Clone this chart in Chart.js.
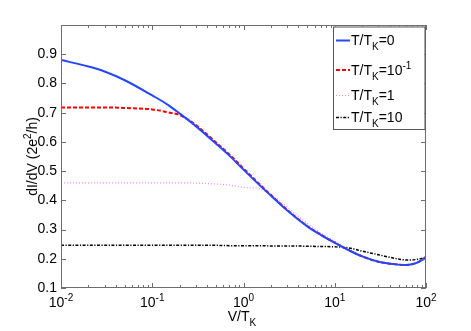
<!DOCTYPE html>
<html>
<head>
<meta charset="utf-8">
<script src="https://cdn.jsdelivr.net/npm/chart.js@4"></script>
<style>
  body { margin: 0; background: #fff; }
  #wrap { width: 471px; height: 331px; }
</style>
</head>
<body>
<div id="wrap"><canvas id="dIdVChart" width="471" height="331"></canvas></div>
<script>
// V/T_K sample points (log axis)
const vRatio = [0.01, 0.02, 0.03, 0.05, 0.1, 0.15, 0.2, 0.3, 0.5, 0.7, 1, 1.5, 2, 3, 5, 7, 10, 15, 20, 30, 50, 60, 70, 80, 90, 100];

// dI/dV in units of 2e^2/h
const gT0  = [0.880, 0.858, 0.841, 0.811, 0.759, 0.726, 0.697, 0.654, 0.594, 0.553, 0.505, 0.452, 0.416, 0.366, 0.311, 0.282, 0.255, 0.226, 0.208, 0.190, 0.180, 0.179, 0.181, 0.187, 0.195, 0.206];
const gT01 = [0.718, 0.718, 0.718, 0.716, 0.711, 0.701, 0.692, 0.658, 0.598, 0.557, 0.509, 0.455, 0.418, 0.368, 0.312, 0.283, 0.255, 0.226, 0.208, 0.190, 0.180, 0.179, 0.181, 0.187, 0.195, 0.206];
const gT1  = [0.460, 0.460, 0.460, 0.460, 0.460, 0.460, 0.460, 0.459, 0.456, 0.452, 0.445, 0.439, 0.420, 0.378, 0.321, 0.289, 0.260, 0.228, 0.209, 0.191, 0.181, 0.180, 0.182, 0.188, 0.196, 0.206];
const gT10 = [0.246, 0.246, 0.246, 0.246, 0.246, 0.246, 0.246, 0.246, 0.246, 0.245, 0.245, 0.245, 0.244, 0.244, 0.243, 0.242, 0.241, 0.236, 0.226, 0.214, 0.199, 0.196, 0.196, 0.198, 0.201, 0.206];

// legend text: [before subscript, subscript, after, superscript]
const legendLabels = [
  ['T/T', 'K', '=0', ''],
  ['T/T', 'K', '=10', '-1'],
  ['T/T', 'K', '=1', ''],
  ['T/T', 'K', '=10', '']
];

// x tick labels 10^n
const xTickValues = [0.01, 0.1, 1, 10, 100];
const xTickExponents = ['-2', '-1', '0', '1', '2'];

const pts = arr => arr.map((g, i) => ({ x: vRatio[i], y: g }));

const FONT = '"Liberation Sans", Arial, Helvetica, sans-serif';
const AXIS_GRAY = '#6e6e6e';

// draws text runs with super/subscripts, returns width
function richText(ctx, runs, x, y, align, draw) {
  const big = '14px ' + FONT, small = '10px ' + FONT;
  let w = 0;
  runs.forEach(r => { ctx.font = r.s ? small : big; w += ctx.measureText(r.t).width; });
  if (!draw) return w;
  let cx = align === 'center' ? x - w / 2 : x;
  ctx.textAlign = 'left';
  ctx.textBaseline = 'alphabetic';
  runs.forEach(r => {
    ctx.font = r.s ? small : big;
    const dy = r.s === 'sup' ? -6 : r.s === 'sub' ? 5 : 0;
    ctx.fillText(r.t, cx, y + dy);
    cx += ctx.measureText(r.t).width;
  });
  return w;
}

const datasetStyles = [
  { color: 'rgb(35,70,255)', width: 2, dash: [] },
  { color: 'rgb(255,0,0)', width: 2, dash: [4, 2] },
  { color: 'rgb(225,140,255)', width: 1.2, dash: [1, 2] },
  { color: 'rgb(0,0,0)', width: 1.5, dash: [3, 1.5, 1.2, 1.5] }
];

const framePlugin = {
  id: 'frame',
  afterDraw(chart) {
    const ctx = chart.ctx;
    const a = chart.chartArea;
    const xs = chart.scales.x, ys = chart.scales.y;
    ctx.save();
    // box
    ctx.strokeStyle = AXIS_GRAY;
    ctx.lineWidth = 1;
    ctx.setLineDash([]);
    ctx.strokeRect(a.left + 0.5, a.top + 0.5, a.right - a.left - 1, a.bottom - a.top - 1);
    // x ticks, major + minor, inward on top and bottom
    ctx.beginPath();
    xTickValues.forEach((v, i) => {
      for (let m = 1; m <= 9; m++) {
        if (i === xTickValues.length - 1 && m > 1) break;
        const px = Math.round(xs.getPixelForValue(v * m)) + 0.5;
        const len = m === 1 ? 5 : 3;
        ctx.moveTo(px, a.bottom); ctx.lineTo(px, a.bottom - len);
        ctx.moveTo(px, a.top); ctx.lineTo(px, a.top + len);
      }
    });
    // y ticks inward on left and right
    ys.ticks.forEach(t => {
      const py = Math.round(ys.getPixelForValue(t.value)) + 0.5;
      ctx.moveTo(a.left, py); ctx.lineTo(a.left + 5, py);
      ctx.moveTo(a.right, py); ctx.lineTo(a.right - 5, py);
    });
    ctx.stroke();

    ctx.fillStyle = '#000';
    // x tick labels
    xTickValues.forEach((v, i) => {
      const px = xs.getPixelForValue(v);
      richText(ctx, [{ t: '10' }, { t: xTickExponents[i], s: 'sup' }], px, 306.5, 'center', true);
    });
    // x title
    richText(ctx, [{ t: 'V/T' }, { t: 'K', s: 'sub' }], 242, 320.5, 'center', true);
    // y title
    ctx.save();
    ctx.translate(36.5, (a.top + a.bottom) / 2);
    ctx.rotate(-Math.PI / 2);
    richText(ctx, [{ t: 'dI/dV (2e' }, { t: '2', s: 'sup' }, { t: '/h)' }], 0, 0, 'center', true);
    ctx.restore();

    // legend
    const L = { x: 333, y: 26.5, w: 91.5, h: 102.5 };
    ctx.fillStyle = '#fff';
    ctx.fillRect(L.x, L.y, L.w, L.h);
    ctx.strokeStyle = '#555';
    ctx.strokeRect(L.x + 0.5, L.y + 0.5, L.w, L.h);
    const rowY = [40.5, 70, 95.5, 117.5];
    legendLabels.forEach((lab, i) => {
      const st = datasetStyles[i];
      ctx.strokeStyle = st.color;
      ctx.lineWidth = st.width;
      ctx.setLineDash(st.dash);
      ctx.beginPath();
      ctx.moveTo(336, rowY[i]); ctx.lineTo(350, rowY[i]);
      ctx.stroke();
      ctx.setLineDash([]);
      ctx.fillStyle = '#000';
      const runs = [{ t: lab[0] }, { t: lab[1], s: 'sub' }, { t: lab[2] }];
      if (lab[3]) runs.push({ t: lab[3], s: 'sup' });
      richText(ctx, runs, 351, rowY[i] + 4.5, 'left', true);
    });
    ctx.restore();
  }
};

const ctx = document.getElementById('dIdVChart').getContext('2d');
new Chart(ctx, {
  type: 'line',
  data: {
    datasets: [gT0, gT01, gT1, gT10].map((g, i) => ({
      data: pts(g),
      borderColor: datasetStyles[i].color,
      borderWidth: datasetStyles[i].width,
      borderDash: datasetStyles[i].dash,
      pointRadius: 0,
      fill: false,
      cubicInterpolationMode: 'monotone'
    }))
  },
  options: {
    responsive: false,
    animation: false,
    layout: { padding: { top: 25, right: 45, left: 0, bottom: 0 } },
    plugins: { legend: { display: false }, tooltip: { enabled: false } },
    scales: {
      x: {
        type: 'logarithmic',
        min: 0.01,
        max: 100,
        grid: { display: false },
        border: { display: false },
        ticks: { display: false },
        afterFit: s => { s.height = 43; }
      },
      y: {
        min: 0.1,
        max: 1.0,
        grid: { display: false, drawTicks: false },
        border: { display: false },
        ticks: {
          stepSize: 0.1,
          padding: 4,
          color: '#000',
          font: { family: FONT, size: 14 },
          callback: v => (v > 0.95 ? '' : Number(v).toFixed(1))
        },
        afterFit: s => { s.width = 61; }
      }
    }
  },
  plugins: [framePlugin]
});
</script>
</body>
</html>
